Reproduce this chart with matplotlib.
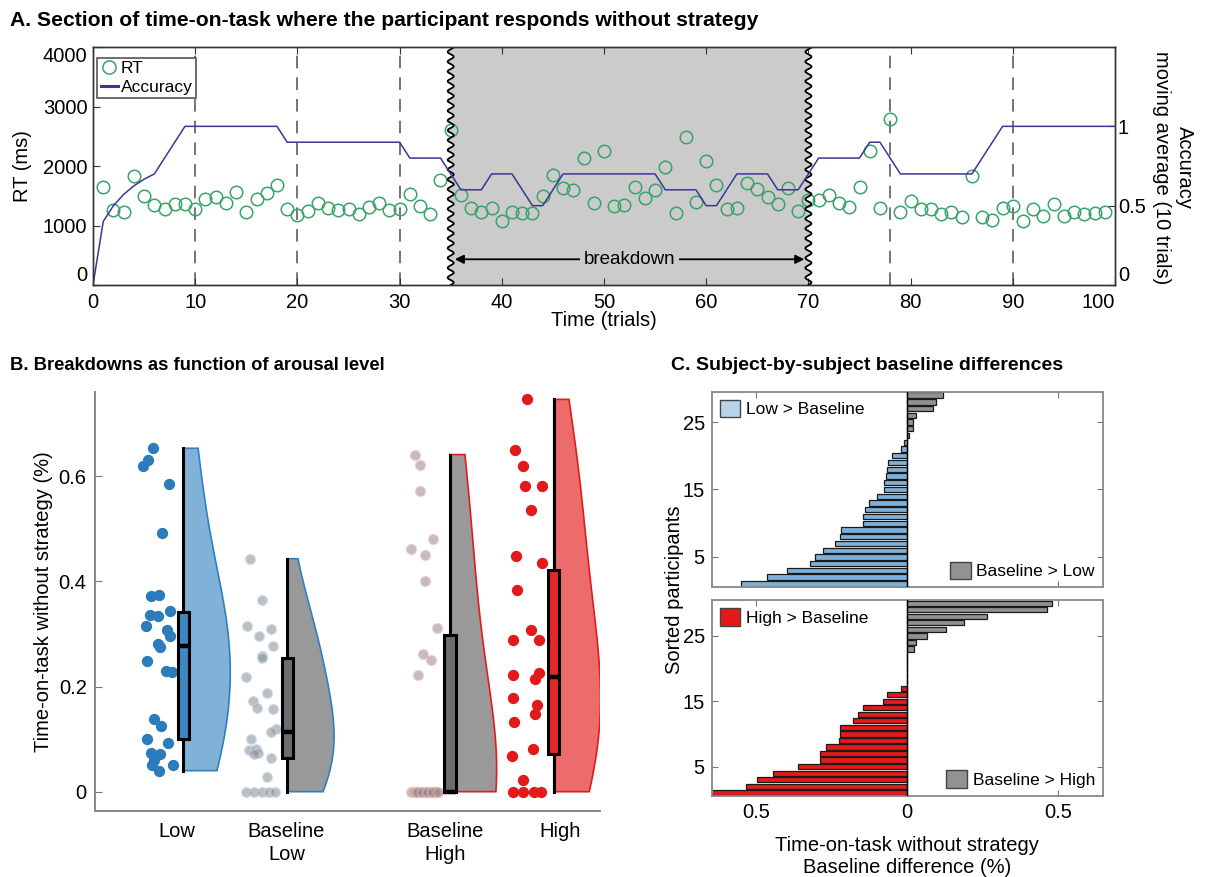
import numpy as np
import matplotlib
matplotlib.use('Agg')
import matplotlib.pyplot as plt
from matplotlib.patches import Patch
from matplotlib.lines import Line2D

plt.rcParams['font.family'] = ['Liberation Sans', 'DejaVu Sans']
plt.rcParams['font.size'] = 13

# ------------------------- Panel A data -------------------------
acc_trials = list(range(0, 101))
accuracy = [0.0, 0.4, 0.5, 0.571, 0.625, 0.667, 0.7, 0.8, 0.9, 1.0,
            1.0, 1.0, 1.0, 1.0, 1.0, 1.0, 1.0, 1.0, 1.0, 0.9,
            0.9, 0.9, 0.9, 0.9, 0.9, 0.9, 0.9, 0.9, 0.9, 0.9,
            0.9, 0.8, 0.8, 0.8, 0.8, 0.7, 0.6, 0.6, 0.6, 0.7,
            0.7, 0.7, 0.6, 0.5, 0.5, 0.6, 0.7, 0.7, 0.7, 0.7,
            0.7, 0.7, 0.7, 0.7, 0.7, 0.7, 0.6, 0.6, 0.6, 0.6,
            0.5, 0.5, 0.6, 0.7, 0.7, 0.7, 0.7, 0.6, 0.6, 0.6,
            0.7, 0.8, 0.8, 0.8, 0.8, 0.8, 0.9, 0.9, 0.8, 0.7,
            0.7, 0.7, 0.7, 0.7, 0.7, 0.7, 0.7, 0.8, 0.9, 1.0,
            1.0, 1.0, 1.0, 1.0, 1.0, 1.0, 1.0, 1.0, 1.0, 1.0,
            1.0]
rt_trials = list(range(1, 100))
rt = [1650, 1260, 1232, 1832, 1501, 1345, 1272, 1361, 1356, 1277,
      1445, 1473, 1384, 1557, 1232, 1445, 1540, 1680, 1277, 1176,
      1243, 1372, 1288, 1260, 1272, 1187, 1316, 1372, 1260, 1277,
      1529, 1333, 1193, 1770, 2605, 1513, 1289, 1232, 1300, 1081,
      1232, 1215, 1215, 1496, 1849, 1636, 1597, 2140, 1372, 2252,
      1333, 1345, 1642, 1462, 1597, 1978, 1215, 2482, 1389, 2084,
      1680, 1272, 1288, 1720, 1608, 1473, 1356, 1625, 1243, 1435,
      1428, 1513, 1380, 1305, 1641, 2257, 1288, 2795, 1232, 1417,
      1277, 1277, 1187, 1221, 1148, 1837, 1137, 1092, 1300, 1333,
      1081, 1277, 1165, 1361, 1165, 1232, 1187, 1204, 1232]
dashed_trials = [10, 20, 30, 78, 90]
breakdown_span = [35, 70]
xticks_a = [0, 10, 20, 30, 40, 50, 60, 70, 80, 90, 100]
yticks_rt = [0, 1000, 2000, 3000, 4000]
yticks_acc = [0, 0.5, 1]

# ------------------------- Panel B data -------------------------
group_labels = ['Low', 'Baseline\nLow', 'Baseline\nHigh', 'High']
low_vals = [0.653, 0.631, 0.619, 0.585, 0.491, 0.372, 0.374, 0.336, 0.334, 0.343,
            0.315, 0.307, 0.297, 0.281, 0.275, 0.248, 0.229, 0.227, 0.138, 0.125,
            0.101, 0.092, 0.073, 0.071, 0.060, 0.051, 0.051, 0.040]
low_jit = [-0.29, -0.34, -0.39, -0.14, -0.21, -0.31, -0.24, -0.32, -0.25, -0.13,
           -0.36, -0.16, -0.13, -0.25, -0.23, -0.35, -0.17, -0.11, -0.28, -0.22,
           -0.35, -0.15, -0.31, -0.23, -0.28, -0.30, -0.10, -0.24]
baselow_vals = [0.443, 0.364, 0.315, 0.309, 0.296, 0.277, 0.258, 0.255, 0.219, 0.187,
                0.172, 0.160, 0.157, 0.119, 0.114, 0.101, 0.080, 0.082, 0.074, 0.071,
                0.065, 0.027, 0.0, 0.0, 0.0, 0.0, 0.0]
baselow_jit = [-0.36, -0.24, -0.39, -0.16, -0.27, -0.14, -0.24, -0.24, -0.40, -0.20,
               -0.33, -0.29, -0.14, -0.11, -0.16, -0.35, -0.37, -0.30, -0.28, -0.32,
               -0.16, -0.20, -0.40, -0.32, -0.24, -0.18, -0.12]
basehigh_vals = [0.641, 0.622, 0.572, 0.481, 0.461, 0.451, 0.401, 0.312, 0.262, 0.251,
                 0.222, 0.0, 0.0, 0.0, 0.0, 0.0, 0.0, 0.0, 0.0, 0.0,
                 0.0, 0.0, 0.0, 0.0, 0.0, 0.0, 0.0, 0.0]
basehigh_jit = [-0.34, -0.29, -0.29, -0.16, -0.37, -0.24, -0.24, -0.12, -0.26, -0.18,
                -0.31, -0.34, -0.30, -0.25, -0.20, -0.15, -0.12, -0.37, -0.33, -0.28,
                -0.23, -0.18, -0.14, -0.32, -0.27, -0.22, -0.17, -0.11]
high_vals = [0.746, 0.649, 0.620, 0.581, 0.581, 0.536, 0.448, 0.435, 0.383, 0.307,
             0.288, 0.288, 0.222, 0.225, 0.215, 0.179, 0.165, 0.147, 0.132, 0.082,
             0.068, 0.022, 0.0, 0.0, 0.0, 0.0]
high_jit = [-0.26, -0.37, -0.30, -0.28, -0.11, -0.22, -0.36, -0.11, -0.35, -0.22,
            -0.39, -0.14, -0.39, -0.14, -0.18, -0.39, -0.16, -0.18, -0.38, -0.20,
            -0.40, -0.30, -0.39, -0.30, -0.19, -0.12]
box_q1 = [0.100, 0.065, 0.0, 0.072]
box_med = [0.277, 0.113, 0.0, 0.218]
box_q3 = [0.342, 0.255, 0.298, 0.422]
box_lo = [0.040, 0.0, 0.0, 0.0]
box_hi = [0.653, 0.442, 0.641, 0.746]

# ------------------------- Panel C data -------------------------
low_minus_base = [-0.549, -0.464, -0.396, -0.319, -0.305, -0.278, -0.238, -0.220, -0.218, -0.146,
                  -0.145, -0.139, -0.124, -0.098, -0.074, -0.074, -0.070, -0.065, -0.062, -0.048,
                  -0.019, -0.008, 0.009, 0.020, 0.020, 0.031, 0.088, 0.096, 0.121]
high_minus_base = [-0.660, -0.533, -0.496, -0.444, -0.359, -0.286, -0.286, -0.268, -0.223, -0.221,
                   -0.221, -0.178, -0.161, -0.145, -0.080, -0.066, -0.020, 0.0, 0.0, 0.0,
                   0.0, 0.0, 0.023, 0.029, 0.068, 0.130, 0.188, 0.265, 0.466, 0.481]

# ------------------------- figure -------------------------
W, H = 1206, 877
fig = plt.figure(figsize=(W / 100, H / 100), dpi=100)


def px_axes(l, t, r, b):
    return fig.add_axes([l / W, 1 - b / H, (r - l) / W, (b - t) / H])


# ========================= Panel A =========================
axA = px_axes(93, 47, 1115, 285)
axA2 = axA.twinx()
axA.set_zorder(1)
axA2.set_zorder(2)
axA.patch.set_visible(True)
axA2.patch.set_visible(False)

yy = np.linspace(0, 4000, 800)
wave = 0.3 * np.sin(2 * np.pi * yy / 165.0)
x_left = breakdown_span[0] + wave
x_right = breakdown_span[1] + wave
axA.fill_betweenx(yy, x_left, x_right, color='#cbcbcb', lw=0, zorder=0)
for xv in dashed_trials:
    axA.axvline(xv, color='#6a6a6a', lw=1.3, dashes=(7, 5), zorder=1)
axA.plot(rt_trials, rt, 'o', ms=9.0, mfc='none', mec='#3aa36a', mew=1.1, zorder=3)
axA.plot(x_left, yy, color='black', lw=1.3, zorder=5)
axA.plot(x_right, yy, color='black', lw=1.3, zorder=5)

mid = (breakdown_span[0] + breakdown_span[1]) / 2
axA.annotate('', xy=(breakdown_span[0] + 0.4, 432), xytext=(breakdown_span[1] - 0.4, 432),
             arrowprops=dict(arrowstyle='<|-|>', color='black', lw=1.3,
                             mutation_scale=13, shrinkA=0, shrinkB=0), zorder=4)
axA.text(mid, 432, 'breakdown', ha='center', va='center', fontsize=13.5, zorder=5,
         bbox=dict(facecolor='#cbcbcb', edgecolor='none', pad=2.5))

axA.set_xlim(0, 100)
axA.set_ylim(0, 4000)
axA.set_xticks(xticks_a)
axA.set_xticklabels([str(t) for t in xticks_a])
axA.set_yticks(yticks_rt)
axA.set_yticklabels([str(t) for t in yticks_rt])
axA.tick_params(direction='in', length=5, labelsize=14.5, top=True, color='#333333', pad=4)
axA.tick_params(axis='x', pad=6)
axA.get_xticklabels()[-1].set_ha('right')
axA.get_yticklabels()[0].set_va('bottom')
axA.get_yticklabels()[-1].set_va('top')
axA.set_xlabel('Time (trials)', fontsize=14.5, labelpad=-1)
axA.set_ylabel('RT (ms)', fontsize=14.5, labelpad=8)

axA2.plot(acc_trials, accuracy, color='#3b3794', lw=1.1, zorder=2)
axA2.set_ylim(0, 1.5)
axA2.set_yticks(yticks_acc)
axA2.set_yticklabels(['0', '0.5', '1'])
axA2.tick_params(direction='in', length=5, labelsize=14.5, color='#333333', pad=2)
axA2.get_yticklabels()[0].set_va('bottom')
fig.text(1173 / W, 1 - 168 / H, 'Accuracy\nmoving average (10 trials)', rotation=270,
         fontsize=14.5, ha='center', va='center', linespacing=1.3, multialignment='center')
for a in (axA, axA2):
    for s in a.spines.values():
        s.set_color('#333333')
        s.set_linewidth(1.0)

handles = [Line2D([], [], marker='o', ls='none', mfc='none', mec='#3aa36a', mew=1.1, ms=9.5),
           Line2D([], [], color='#3b3794', lw=2.2)]
leg = axA2.legend(handles, ['RT', 'Accuracy'], loc='upper left', bbox_to_anchor=(0.004, 0.955),
                  fontsize=12.5, handlelength=1.0, handletextpad=0.15, borderpad=0.2,
                  labelspacing=0.2, borderaxespad=0.0, fancybox=False, framealpha=1)
leg.get_frame().set_edgecolor('#555555')
leg.get_frame().set_linewidth(1.2)

fig.text(10 / W, 1 - 20 / H,
         'A. Section of time-on-task where the participant responds without strategy',
         fontsize=15.2, fontweight='bold', ha='left', va='center')

# ========================= Panel B =========================
axB = px_axes(95, 392, 600, 811)
positions = [1, 2, 3.565, 4.565]
label_pos = [0.94, 1.99, 3.52, 4.63]
group_vals = [low_vals, baselow_vals, basehigh_vals, high_vals]
group_jit = [low_jit, baselow_jit, basehigh_jit, high_jit]
violin_face = ['#80b2d8', '#999999', '#999999', '#ec6b6b']
violin_edge = ['#2f7fc1', '#2f7fc1', '#e31a1c', '#e31a1c']
box_face = ['#3d87c4', '#6d6d6d', '#6d6d6d', '#e3262a']
dot_face = ['#2c7bba', '#8c8c8c', '#8c8c8c', '#e31a1c']
dot_edge = ['#2c7bba', '#b7d3ea', '#f2b3b3', '#e31a1c']
dot_alpha = [1.0, 0.55, 0.55, 1.0]
bandwidths = [0.15, 0.10, 0.20, 0.17]
max_w = 0.45

for i in range(4):
    d = np.asarray(group_vals[i], dtype=float)
    pos = positions[i]
    axB.scatter(pos + np.asarray(group_jit[i]), d, s=48, facecolor=dot_face[i],
                edgecolor=dot_edge[i], linewidth=1.2, alpha=dot_alpha[i], zorder=2)
    ys = np.linspace(d.min(), d.max(), 300)
    bw = bandwidths[i]
    dens = np.exp(-0.5 * ((ys[:, None] - d[None, :]) / bw) ** 2).sum(axis=1)
    w = dens / dens.max() * max_w
    xs = np.concatenate([[pos], pos + w, [pos]])
    yv = np.concatenate([[ys[0]], ys, [ys[-1]]])
    axB.fill(xs, yv, facecolor=violin_face[i], edgecolor=violin_edge[i], lw=1.2, zorder=1)

stats = []
for i in range(4):
    stats.append(dict(med=box_med[i], q1=box_q1[i], q3=box_q3[i],
                      whislo=box_lo[i], whishi=box_hi[i], fliers=[]))
bp = axB.bxp(stats, positions=positions, widths=0.11, patch_artist=True, showcaps=False,
             showfliers=False, manage_ticks=False,
             boxprops=dict(edgecolor='black', linewidth=2.2),
             medianprops=dict(color='black', linewidth=3.2),
             whiskerprops=dict(color='black', linewidth=2.2), zorder=3)
for patch, fc in zip(bp['boxes'], box_face):
    patch.set_facecolor(fc)

axB.set_xlim(0.148, 5.01)
axB.set_ylim(-0.0367, 0.76)
axB.set_yticks([0, 0.2, 0.4, 0.6])
axB.set_yticklabels(['0', '0.2', '0.4', '0.6'])
axB.set_xticks(label_pos)
axB.set_xticklabels(group_labels, linespacing=1.25)
axB.tick_params(axis='x', length=0, labelsize=14.5, pad=8)
axB.tick_params(axis='y', direction='in', length=5, labelsize=14.5, color='#777777', pad=6)
axB.spines['top'].set_visible(False)
axB.spines['right'].set_visible(False)
axB.spines['left'].set_color('#888888')
axB.spines['bottom'].set_color('#888888')
axB.spines['left'].set_linewidth(1.4)
axB.spines['bottom'].set_linewidth(1.4)
axB.set_ylabel('Time-on-task without strategy (%)', fontsize=14.5, labelpad=4)

fig.text(10 / W, 1 - 365 / H, 'B. Breakdowns as function of arousal level',
         fontsize=13.2, fontweight='bold', ha='left', va='center')

# ========================= Panel C =========================
axC1 = px_axes(711.7, 391.7, 1102.7, 587.3)
axC2 = px_axes(711.7, 600, 1102.7, 796)

neg_colors = ['#7eb1d9', '#e31a1c']
legend_neg = ['#b9d4ea', '#e31a1c']
neg_labels = ['Low > Baseline', 'High > Baseline']
pos_labels = ['Baseline > Low', 'Baseline > High']
for ax, vals, nc, lc, nl, pl in zip((axC1, axC2), (low_minus_base, high_minus_base),
                                    neg_colors, legend_neg, neg_labels, pos_labels):
    v = np.asarray(vals)
    y = np.arange(1, len(v) + 1)
    cols = [nc if val < 0 else '#929292' for val in v]
    ax.barh(y, v, height=0.8, color=cols, edgecolor='#1a1a1a', linewidth=0.9, zorder=2)
    ax.axvline(0, color='black', lw=1.0, zorder=3)
    ax.set_xlim(-0.646, 0.649)
    ax.set_ylim(0.5, len(v) + 0.5)
    ax.set_yticks([5, 15, 25])
    ax.set_xticks([-0.5, 0, 0.5])
    ax.set_xticklabels(['0.5', '0', '0.5'])
    ax.tick_params(direction='in', length=4, top=True, right=True, labelsize=14.5,
                   color='#777777', pad=5)
    for s in ax.spines.values():
        s.set_color('#888888')
        s.set_linewidth(1.3)
    l1 = ax.legend([Patch(facecolor=lc, edgecolor='#444444', lw=1.0)], [nl], loc='upper left',
                   frameon=False, fontsize=12.5, handlelength=1.2, handleheight=1.2,
                   handletextpad=0.3, borderaxespad=0.15, borderpad=0.3)
    ax.add_artist(l1)
    ax.legend([Patch(facecolor='#929292', edgecolor='#444444', lw=1.0)], [pl], loc='lower right',
              frameon=False, fontsize=12.5, handlelength=1.2, handleheight=1.2,
              handletextpad=0.3, borderaxespad=0.15, borderpad=0.3)
axC1.tick_params(labelbottom=False)
axC2.set_xlabel('Time-on-task without strategy\nBaseline difference (%)', fontsize=14.5,
                labelpad=10, linespacing=1.2)
fig.text(674 / W, 1 - 590 / H, 'Sorted participants', rotation=90, fontsize=14.5,
         ha='center', va='center')
fig.text(671 / W, 1 - 365 / H, 'C. Subject-by-subject baseline differences',
         fontsize=14.0, fontweight='bold', ha='left', va='center')

fig.savefig('out.png', dpi=100)
